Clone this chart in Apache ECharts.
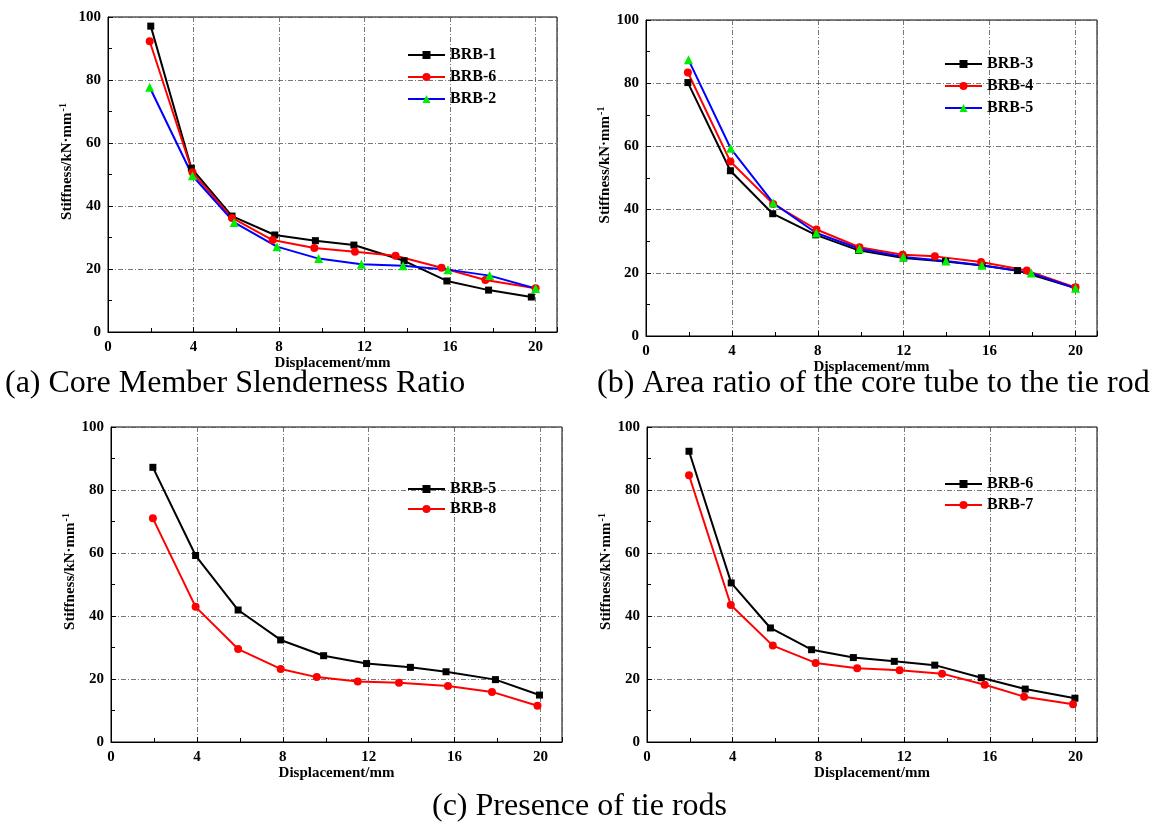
<!DOCTYPE html>
<html>
<head>
<meta charset="utf-8">
<script src="https://cdn.jsdelivr.net/npm/echarts@6/dist/echarts.min.js"></script>
<style>
html,body{margin:0;padding:0;background:#fff;}
#c{width:1158px;height:825px;}
</style>
</head>
<body>
<div id="c"></div>
<script>
// ---------- Data ----------
const xTicks = [0, 4, 8, 12, 16, 20];
const yTicks = [0, 20, 40, 60, 80, 100];
const captions = ['(a) Core Member Slenderness Ratio', '(b) Area ratio of the core tube to the tie rod', '(c) Presence of tie rods'];

// Panel (a)
const a_BRB1_x = [2.0, 3.9, 5.8, 7.8, 9.7, 11.5, 13.85, 15.85, 17.8, 19.8];
const a_BRB1_y = [97.1, 52.0, 36.8, 30.8, 29.0, 27.6, 22.6, 16.2, 13.3, 11.1];
const a_BRB6_x = [1.95, 3.95, 5.8, 7.7, 9.65, 11.55, 13.45, 15.6, 17.65, 20.0];
const a_BRB6_y = [92.3, 50.7, 36.2, 29.2, 26.7, 25.5, 24.2, 20.4, 16.5, 13.9];
const a_BRB2_x = [1.95, 3.95, 5.9, 7.9, 9.85, 11.85, 13.8, 15.9, 17.85, 20.0];
const a_BRB2_y = [77.7, 49.6, 34.8, 27.1, 23.3, 21.5, 21.0, 19.8, 17.9, 13.8];

// Panel (b)
const b_BRB3_x = [1.95, 3.93, 5.9, 7.9, 9.9, 12.0, 13.95, 15.65, 17.3, 20.0];
const b_BRB3_y = [80.2, 52.3, 38.7, 32.0, 27.1, 24.7, 23.6, 22.3, 20.7, 15.2];
const b_BRB4_x = [1.95, 3.93, 5.92, 7.94, 9.94, 11.95, 13.45, 15.6, 17.73, 20.0];
const b_BRB4_y = [83.4, 55.2, 41.8, 33.7, 28.1, 25.7, 25.2, 23.4, 20.7, 15.4];
const b_BRB5_x = [1.98, 3.94, 5.92, 7.93, 9.94, 11.98, 13.97, 15.64, 17.94, 20.0];
const b_BRB5_y = [87.4, 59.4, 42.1, 32.6, 27.6, 25.0, 23.7, 22.4, 19.9, 15.1];

// Panel (c)
const c_BRB5_x = [1.95, 3.94, 5.92, 7.9, 9.9, 11.9, 13.94, 15.6, 17.9, 19.95];
const c_BRB5_y = [87.2, 59.2, 41.9, 32.4, 27.4, 24.9, 23.7, 22.3, 19.8, 14.9];
const c_BRB8_x = [1.95, 3.94, 5.92, 7.9, 9.58, 11.49, 13.41, 15.69, 17.74, 19.86];
const c_BRB8_y = [71.0, 42.9, 29.5, 23.2, 20.6, 19.2, 18.8, 17.8, 15.9, 11.5];

// Panel (d)
const d_BRB6_x = [1.96, 3.93, 5.76, 7.68, 9.63, 11.54, 13.43, 15.6, 17.65, 19.97];
const d_BRB6_y = [92.3, 50.5, 36.2, 29.3, 26.8, 25.6, 24.4, 20.4, 16.8, 13.9];
const d_BRB7_x = [1.96, 3.91, 5.87, 7.87, 9.81, 11.79, 13.77, 15.76, 17.6, 19.88];
const d_BRB7_y = [84.7, 43.5, 30.6, 25.1, 23.4, 22.8, 21.7, 18.2, 14.4, 12.0];

// ---------- Build ----------
const F = '"Liberation Serif", "Times New Roman", serif';
const zip = (xs, ys) => xs.map((x, i) => [x, ys[i]]);

const grids = [
  {left: 108, top: 17, width: 449, height: 315},
  {left: 646, top: 20, width: 451, height: 316},
  {left: 111, top: 427, width: 451, height: 315},
  {left: 647, top: 427, width: 450, height: 315}
];

function xAx(i) {
  return {
    type: 'value', gridIndex: i, min: 0, max: 21, interval: 4,
    name: 'Displacement/mm', nameLocation: 'middle', nameGap: 24,
    nameTextStyle: {fontFamily: F, fontWeight: 'bold', fontSize: 15, color: '#000'},
    axisLine: {show: true, onZero: false, lineStyle: {color: '#000', width: 1}},
    axisTick: {show: true, inside: true, length: 5, lineStyle: {color: '#000'}},
    minorTick: {show: true, splitNumber: 2, length: 4, lineStyle: {color: '#000'}},
    axisLabel: {fontFamily: F, fontWeight: 'bold', fontSize: 15, color: '#000', margin: 8,
      formatter: v => (xTicks.indexOf(v) >= 0 ? String(v) : '')},
    splitLine: {show: true, lineStyle: {color: '#555', type: [5, 2, 1, 2], width: 0.8}}
  };
}
function yAx(i) {
  return {
    type: 'value', gridIndex: i, min: 0, max: 100, interval: 20,
    name: '{m|Stiffness/kN·mm}{s|-1}', nameLocation: 'middle', nameGap: 31,
    nameTextStyle: {fontFamily: F, fontWeight: 'bold', fontSize: 15, color: '#000',
      padding: [0, 0, 0, 26],
      rich: {
        m: {fontFamily: F, fontWeight: 'bold', fontSize: 15, color: '#000'},
        s: {fontFamily: F, fontWeight: 'bold', fontSize: 10, color: '#000', verticalAlign: 'top', padding: [0, 0, 8, 1]}
      }},
    axisLine: {show: true, onZero: false, lineStyle: {color: '#000', width: 1}},
    axisTick: {show: true, inside: true, length: 5, lineStyle: {color: '#000'}},
    minorTick: {show: true, splitNumber: 2, length: 4, lineStyle: {color: '#000'}},
    axisLabel: {fontFamily: F, fontWeight: 'bold', fontSize: 15, color: '#000', margin: 7,
      formatter: v => (yTicks.indexOf(v) >= 0 ? String(v) : '')},
    splitLine: {show: true, lineStyle: {color: '#555', type: [5, 2, 1, 2], width: 0.8}}
  };
}

function ser(id, label, i, xs, ys, lineColor, symColor, symbol, size) {
  return {
    id: id, name: id + '|' + label, type: 'line', xAxisIndex: i, yAxisIndex: i,
    data: zip(xs, ys), symbol: symbol, symbolSize: size,
    lineStyle: {color: lineColor, width: 2},
    itemStyle: {color: symColor, borderWidth: 0},
    animation: false
  };
}

const series = [
  ser('a1', 'BRB-1', 0, a_BRB1_x, a_BRB1_y, '#000', '#000', 'rect', 7),
  ser('a6', 'BRB-6', 0, a_BRB6_x, a_BRB6_y, '#ff0000', '#ff0000', 'circle', 8),
  ser('a2', 'BRB-2', 0, a_BRB2_x, a_BRB2_y, '#0000ff', '#00ee00', 'triangle', 9),
  ser('b3', 'BRB-3', 1, b_BRB3_x, b_BRB3_y, '#000', '#000', 'rect', 7),
  ser('b4', 'BRB-4', 1, b_BRB4_x, b_BRB4_y, '#ff0000', '#ff0000', 'circle', 8),
  ser('b5', 'BRB-5', 1, b_BRB5_x, b_BRB5_y, '#0000ff', '#00ee00', 'triangle', 9),
  ser('c5', 'BRB-5', 2, c_BRB5_x, c_BRB5_y, '#000', '#000', 'rect', 7),
  ser('c8', 'BRB-8', 2, c_BRB8_x, c_BRB8_y, '#ff0000', '#ff0000', 'circle', 8),
  ser('d6', 'BRB-6', 3, d_BRB6_x, d_BRB6_y, '#000', '#000', 'rect', 7),
  ser('d7', 'BRB-7', 3, d_BRB7_x, d_BRB7_y, '#ff0000', '#ff0000', 'circle', 8)
];

function leg(ids, left, top, gap) {
  return {
    orient: 'vertical', left: left, top: top, itemGap: gap,
    itemWidth: 37, itemHeight: 10, padding: 0,
    data: ids.map(s => s.name),
    formatter: n => n.split('|')[1],
    textStyle: {fontFamily: F, fontWeight: 'bold', fontSize: 16, color: '#000', padding: [0, 0, 0, 0]},
    selectedMode: false
  };
}

const option = {
  backgroundColor: '#fff',
  animation: false,
  grid: grids.map(g => Object.assign({show: true, borderColor: '#000', borderWidth: 1, backgroundColor: 'transparent'}, g)),
  xAxis: [0, 1, 2, 3].map(xAx),
  yAxis: [0, 1, 2, 3].map(yAx),
  legend: [
    leg(series.slice(0, 3), 407, 47, 6),
    leg(series.slice(3, 6), 944, 56, 6),
    leg(series.slice(6, 8), 407, 481, 4),
    leg(series.slice(8, 10), 944, 476, 5)
  ],
  series: series,
  graphic: [
    {type: 'text', left: 5, top: 368, style: {text: captions[0], font: '32px "Liberation Serif"', fill: '#000'}},
    {type: 'text', left: 597, top: 368, style: {text: captions[1], font: '32px "Liberation Serif"', fill: '#000'}},
    {type: 'text', left: 432, top: 791, style: {text: captions[2], font: '32px "Liberation Serif"', fill: '#000'}}
  ]
};

const chart = echarts.init(document.getElementById('c'), null, {renderer: 'canvas'});
chart.setOption(option);
</script>
</body>
</html>
